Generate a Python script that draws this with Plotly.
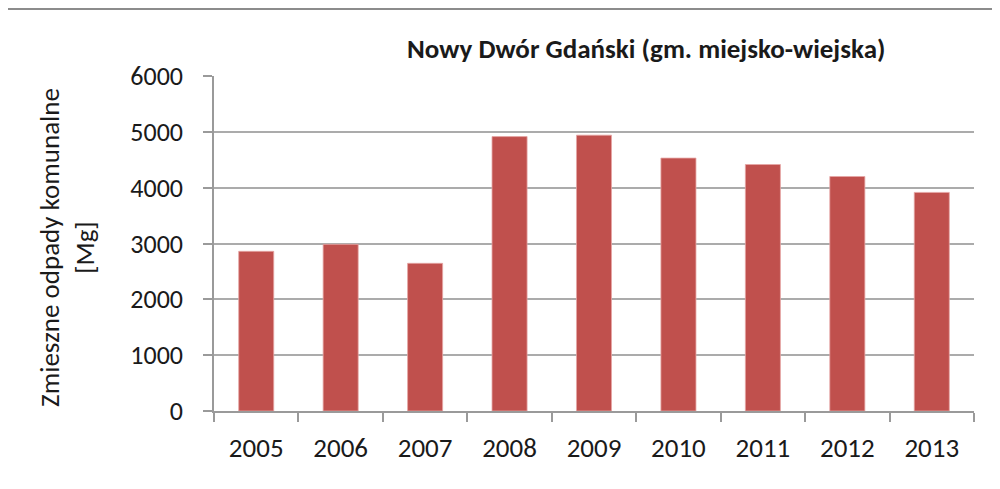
import plotly.graph_objects as go

years = ["2005", "2006", "2007", "2008", "2009", "2010", "2011", "2012", "2013"]
values = [2860, 2985, 2645, 4915, 4940, 4530, 4415, 4200, 3915]
y_ticks = [0, 1000, 2000, 3000, 4000, 5000, 6000]

title_text = "Nowy Dwór Gdański (gm. miejsko-wiejska)"
y_title = "Zmieszne odpady komunalne<br>[Mg]"

FONT = "Carlito, Lato, sans-serif"
OFF = 8  # page body margin offset
W, H = 1000, 489
# plot area in screenshot coords: x 214..974, y 76..411
L, R, T, B = 214 - OFF, W - (974 - OFF), 76 - OFF, H - (411 - OFF)
pw, ph = W - L - R, H - T - B

def px(x):
    return (x - OFF - L) / pw

def py(y):
    return (H - B - (y - OFF)) / ph

fig = go.Figure(go.Bar(
    x=years, y=values,
    marker=dict(color="#C0504D", line=dict(color="#E6A6A4", width=0.8)),
    width=0.415,
))

fig.update_layout(
    width=W, height=H,
    margin=dict(l=L, r=R, t=T, b=B),
    paper_bgcolor="white", plot_bgcolor="white",
    showlegend=False,
    font=dict(family=FONT, color="#1a1a1a"),
    xaxis=dict(
        type="category",
        showline=True, linecolor="#9a9a9a", linewidth=1.5,
        ticks="outside", tickson="boundaries", ticklen=9, tickcolor="#9a9a9a", tickwidth=1.5,
        tickfont=dict(size=27, family=FONT, color="#1a1a1a"),
        ticklabelstandoff=12,
        showgrid=False,
    ),
    yaxis=dict(
        range=[0, 6000], tickvals=y_ticks,
        showline=True, linecolor="#9a9a9a", linewidth=1.5,
        ticks="outside", ticklen=9, tickcolor="#9a9a9a", tickwidth=1.5,
        tickfont=dict(size=26, family=FONT, color="#1a1a1a"),
        ticklabelstandoff=15,
        showgrid=True, gridcolor="#ababab", gridwidth=1.5,
        zeroline=False,
    ),
    annotations=[
        dict(text="<b>" + title_text + "</b>", x=px(646), y=py(48), xref="paper", yref="paper",
             showarrow=False, font=dict(size=27, family=FONT, color="#1a1a1a"),
             xanchor="center", yanchor="middle"),
        dict(text=y_title, x=px(67), y=py(248), xref="paper", yref="paper",
             showarrow=False, textangle=-90, font=dict(size=27, family=FONT, color="#1a1a1a"),
             xanchor="center", yanchor="middle"),
    ],
    shapes=[
        dict(type="line", xref="paper", yref="paper", x0=px(5), x1=px(1010), y0=py(9), y1=py(9),
             line=dict(color="#8c8c8c", width=2)),
        dict(type="line", xref="paper", yref="paper", x0=px(5), x1=px(5), y0=py(9), y1=py(500),
             line=dict(color="#8c8c8c", width=2)),
    ],
)

fig.write_html("out.html")
